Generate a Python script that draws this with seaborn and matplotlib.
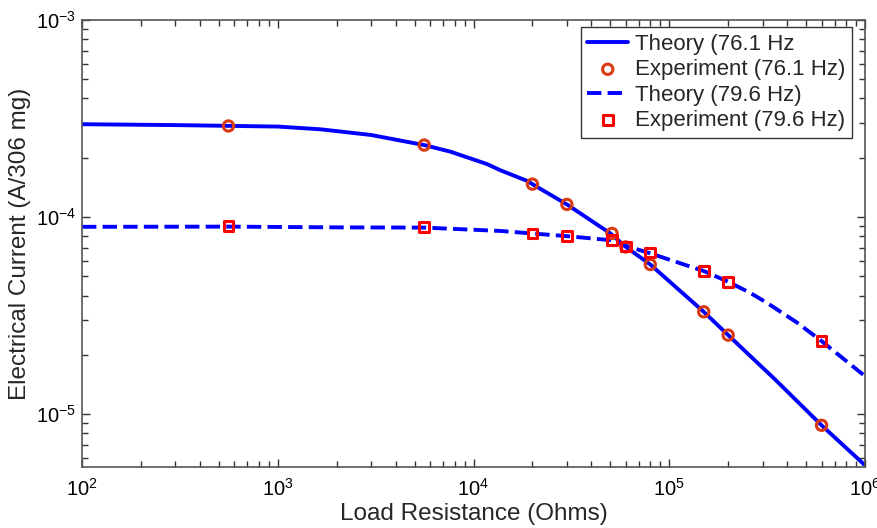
import matplotlib
matplotlib.use('Agg')
import matplotlib.pyplot as plt
import seaborn as sns
import numpy as np
import pandas as pd

# Theory curves (load resistance in ohms, current in A/306 mg)
theory_r_761 = [1e2, 3e2, 1e3, 1.65e3, 3e3, 5.6e3, 7.6e3, 1.17e4, 1.37e4, 1.87e4, 2e4,
                3e4, 5e4, 6e4, 8e4, 1.5e5, 2e5, 3.5e5, 6e5, 1e6]
theory_i_761 = [2.96e-4, 2.93e-4, 2.88e-4, 2.79e-4, 2.61e-4, 2.32e-4, 2.15e-4, 1.86e-4,
                1.73e-4, 1.53e-4, 1.47e-4, 1.16e-4, 8.27e-5, 7.06e-5, 5.75e-5, 3.31e-5,
                2.52e-5, 1.49e-5, 8.79e-6, 5.51e-6]

theory_r_796 = [1e2, 5.6e2, 2.07e3, 5.6e3, 1.37e4, 2e4, 3e4, 5e4, 6e4, 8e4,
                1.5e5, 2e5, 2.6e5, 3.15e5, 4.49e5, 6e5, 1e6]
theory_i_796 = [8.93e-5, 8.95e-5, 8.87e-5, 8.85e-5, 8.51e-5, 8.26e-5, 8.01e-5, 7.64e-5,
                7.15e-5, 6.55e-5, 5.33e-5, 4.70e-5, 4.12e-5, 3.68e-5, 2.92e-5, 2.35e-5,
                1.56e-5]

# Measured points
exp_r = [5.6e2, 5.6e3, 2e4, 3e4, 5.1e4, 6e4, 8e4, 1.5e5, 2e5, 6e5]
exp_i_761 = [2.90e-4, 2.32e-4, 1.47e-4, 1.16e-4, 8.27e-5, 7.06e-5, 5.75e-5,
             3.31e-5, 2.52e-5, 8.79e-6]
exp_i_796 = [9.0e-5, 8.87e-5, 8.26e-5, 8.01e-5, 7.64e-5, 7.1e-5, 6.62e-5,
             5.33e-5, 4.70e-5, 2.35e-5]

sns.set_style('ticks')
plt.rcParams['font.family'] = ['Liberation Sans', 'DejaVu Sans']
plt.rcParams['mathtext.fontset'] = 'custom'
plt.rcParams['mathtext.rm'] = 'Liberation Sans'
plt.rcParams['mathtext.default'] = 'regular'

fig = plt.figure(figsize=(8.78, 5.28), dpi=100)
ax = fig.add_axes([82 / 878, 1 - 467 / 528, (865 - 82) / 878, (467 - 20) / 528])
ax.set_xscale('log')
ax.set_yscale('log')

blue = '#0000ff'
sns.lineplot(x=theory_r_761, y=theory_i_761, ax=ax, color=blue, lw=2.8,
             label='Theory (76.1 Hz', zorder=2)
sns.scatterplot(x=exp_r, y=exp_i_761, ax=ax, marker='o', s=55, facecolor='none',
                edgecolor='#d93a12', linewidth=2.2, label='Experiment (76.1 Hz)', zorder=3)
sns.lineplot(x=theory_r_796, y=theory_i_796, ax=ax, color=blue, lw=2.8, linestyle='--',
             label='Theory (79.6 Hz)', zorder=2)
sns.scatterplot(x=exp_r, y=exp_i_796, ax=ax, marker='s', s=50, facecolor='none',
                edgecolor='#ff0000', linewidth=2.2, label='Experiment (79.6 Hz)', zorder=3)

ax.set_xlim(1e2, 1e6)
ax.set_ylim(5.4e-6, 1e-3)

ax.set_xlabel('Load Resistance (Ohms)', fontsize=17.5, labelpad=2)
ax.set_ylabel('Electrical Current (A/306 mg)', fontsize=17.5, labelpad=4)

ax.tick_params(which='both', direction='in', top=True, right=True, colors='#333333',
               labelcolor='black', labelsize=14.5)
ax.tick_params(which='major', length=6, width=1)
ax.tick_params(which='minor', length=4, width=1)
ax.tick_params(axis='x', pad=8)
ax.tick_params(axis='y', pad=4)
for sp in ax.spines.values():
    sp.set_color('#555555')
    sp.set_linewidth(1.2)

leg = ax.legend(loc='upper right', bbox_to_anchor=(852 / 878, 1 - 27 / 528),
                bbox_transform=fig.transFigure, borderaxespad=0, fontsize=16,
                frameon=True, fancybox=False, edgecolor='#333333', framealpha=1,
                labelspacing=0.2, handlelength=1.85, handletextpad=0.3, borderpad=0.3)
leg.get_frame().set_linewidth(1.0)

fig.savefig('out.png', dpi=100)
